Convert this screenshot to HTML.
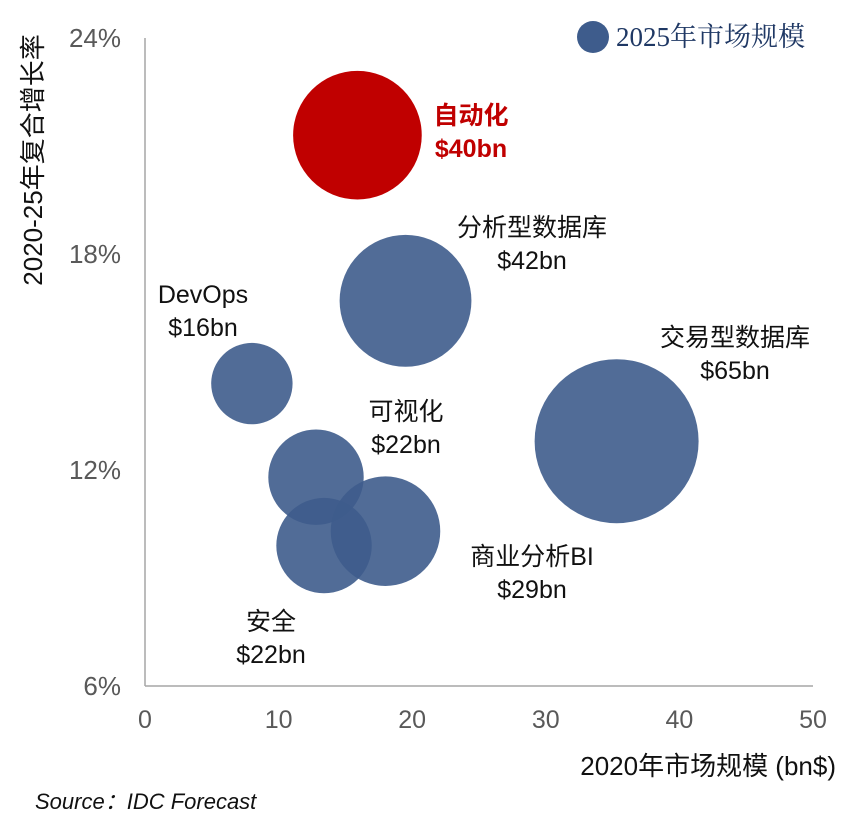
<!DOCTYPE html>
<html><head><meta charset="utf-8"><style>
body{margin:0;background:#fff;}
svg text{font-family:"Liberation Sans","Noto Sans CJK SC",sans-serif;}
</style></head><body>
<svg width="865" height="824" id="chart"></svg>
<script>
const names=["自动化","分析型数据库","DevOps","交易型数据库","可视化","商业分析BI","安全"];
const size2020=[15.9,19.5,8.0,35.3,12.8,18.0,13.4];
const cagr=[21.3,16.7,14.4,12.8,11.8,10.3,9.9];
const size2025=[40,42,16,65,22,29,22];
const xTicks=[0,10,20,30,40,50];
const yTicks=[6,12,18,24];
const svg=document.getElementById('chart');
const NS="http://www.w3.org/2000/svg";
const X=v=>145+v*(813-145)/50;
const Y=v=>686-(v-6)*(686-38)/18;
const R=s=>10.17*Math.sqrt(s);
function mk(t,a,p){const e=document.createElementNS(NS,t);for(const k in a)e.setAttribute(k,a[k]);(p||svg).appendChild(e);return e;}
const ax=mk('line',{x1:145,y1:38,x2:145,y2:686,stroke:'#a6a6a6','stroke-width':1.5});


const bx=mk('line',{x1:145,y1:686,x2:813,y2:686,stroke:'#a6a6a6','stroke-width':1.5});


xTicks.forEach(v=>{const t=mk('text',{x:X(v),y:728,'text-anchor':'middle','font-size':25,fill:'#595959'});t.textContent=v;

});
yTicks.forEach(v=>{const t=mk('text',{x:121,y:Y(v)+9,'text-anchor':'end','font-size':26,fill:'#595959'});t.textContent=v+'%';

});
const labelPos=[[471,124],[532,236],[203,303],[735,346],[406,420],[532,565],[271,630]];
names.forEach((n,i)=>{
 const c=mk('circle',{cx:X(size2020[i]),cy:Y(cagr[i]),r:R(size2025[i]),fill:i==0?'#c00000':'#3e5c8c','fill-opacity':i==0?1:0.9});
 
 
 const [lx,ly]=labelPos[i];
 const col=i==0?'#c00000':'#111';
 const t1=mk('text',{x:lx,y:ly,'text-anchor':'middle','font-size':25,fill:col,'font-weight':i==0?'bold':'normal'});t1.textContent=n;
 
 
 const t2=mk('text',{x:lx,y:ly+33,'text-anchor':'middle','font-size':25,fill:col,'font-weight':i==0?'bold':'normal'});t2.textContent='$'+size2025[i]+'bn';
 
 
});
const lc=mk('circle',{cx:593,cy:37,r:16,fill:'#3e5c8c'});


const lt=mk('text',{x:616,y:46,'font-size':27,fill:'#1f3864','font-family':'"Liberation Serif","Noto Serif CJK SC",serif',style:'font-family:"Liberation Serif","Noto Serif CJK SC",serif'});lt.textContent='2025年市场规模';


const yt=mk('text',{x:0,y:0,'font-size':26,fill:'#111','text-anchor':'middle',transform:'translate(42,160) rotate(-90)'});yt.textContent='2020-25年复合增长率';


const xt=mk('text',{x:836,y:775,'font-size':26,fill:'#111','text-anchor':'end'});xt.textContent='2020年市场规模 (bn$)';


const src=mk('text',{x:35,y:809,'font-size':22,fill:'#111','font-style':'italic'});src.textContent='Source：IDC Forecast';


</script>
</body></html>
